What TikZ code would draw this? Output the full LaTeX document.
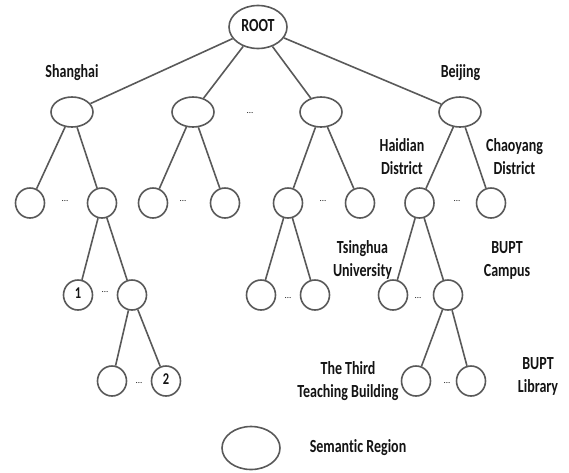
\documentclass[tikz,border=0pt]{standalone}
\usepackage{fontspec}
\setmainfont{Carlito}[Ligatures=NoCommon]
\usetikzlibrary{shapes.geometric}
\definecolor{edgegray}{HTML}{595959}
\definecolor{txt}{HTML}{141414}
\newcommand{\tlab}[1]{\scalebox{1}[1.32]{\begin{tabular}{@{}c@{}}#1\end{tabular}}}
\tikzset{
  rnode/.style={ellipse, draw=edgegray, line width=1.6pt, inner sep=0pt, minimum width=42pt, minimum height=30pt},
  cnode/.style={ellipse, draw=edgegray, line width=1.6pt, inner sep=0pt, minimum width=29pt, minimum height=30pt, font=\fontsize{12.5}{14}\selectfont\bfseries, text=txt},
  bignode/.style={ellipse, draw=edgegray, line width=1.6pt, inner sep=0pt, minimum width=58pt, minimum height=43pt, font=\fontsize{14}{16}\selectfont\bfseries, text=txt},
  lbl/.style={align=center, inner sep=0pt, font=\fontsize{14}{17.5}\selectfont\bfseries, text=txt},
  dotlbl/.style={inner sep=0pt, font=\fontsize{9}{10}\selectfont, text=txt},
  edge/.style={draw=edgegray, line width=1.6pt}
}
\begin{document}
\begin{tikzpicture}[x=1pt,y=-1pt]
\useasboundingbox (0,0) rectangle (569,472);
% root
\node[bignode] (root) at (258,27) {\tlab{ROOT}};
% level 1
\node[rnode] (s1) at (72,112) {};
\node[rnode] (s2) at (193,112) {};
\node[rnode] (s3) at (321,112) {};
\node[rnode] (s4) at (460,112) {};
% level 2
\node[cnode] (a1) at (30,203) {};
\node[cnode] (a2) at (102,203) {};
\node[cnode] (b1) at (153,203) {};
\node[cnode] (b2) at (225,203) {};
\node[cnode] (c1) at (288,203) {};
\node[cnode] (c2) at (360,203) {};
\node[cnode] (d1) at (419.5,203) {};
\node[cnode] (d2) at (491,203) {};
% level 3
\node[cnode] (a21) at (78,295) {\tlab{1}};
\node[cnode] (a22) at (132,295) {};
\node[cnode] (c11) at (261,295) {};
\node[cnode] (c12) at (315,295) {};
\node[cnode] (d11) at (393,295) {};
\node[cnode] (d12) at (448,295) {};
% level 4
\node[cnode] (a221) at (112,381) {};
\node[cnode] (a222) at (166,381) {\tlab{2}};
\node[cnode] (d121) at (416,381) {};
\node[cnode] (d122) at (471,381) {};
% legend
\node[bignode] (leg) at (251,448) {};
\node[lbl] (legt) at (358,448) {\tlab{Semantic Region}};
% edges
\foreach \p/\c in {root/s1,root/s2,root/s3,root/s4,
  s1/a1,s1/a2,s2/b1,s2/b2,s3/c1,s3/c2,s4/d1,s4/d2,
  a2/a21,a2/a22,c1/c11,c1/c12,d1/d11,d1/d12,
  a22/a221,a22/a222,d12/d121,d12/d122}
  \draw[edge] (\p) -- (\c);
% dots
\node[dotlbl] (e1) at (65,201) {...};
\node[dotlbl] (e2) at (183,201) {...};
\node[dotlbl] (e3) at (250,113) {...};
\node[dotlbl] (e4) at (323,201) {...};
\node[dotlbl] (e5) at (457,201) {...};
\node[dotlbl] (e6) at (105,292) {...};
\node[dotlbl] (e7) at (288,298) {...};
\node[dotlbl] (e8) at (418,298) {...};
\node[dotlbl] (e9) at (139,383) {...};
\node[dotlbl] (e10) at (447,383) {...};
% labels
\node[lbl] (tsh) at (72,73) {\tlab{Shanghai}};
\node[lbl] (tbj) at (460.5,73) {\tlab{Beijing}};
\node[lbl] (thd) at (402,158.5) {\tlab{Haidian\\District}};
\node[lbl] (tcy) at (514.5,158.5) {\tlab{Chaoyang\\District}};
\node[lbl] (tth) at (362.5,260) {\tlab{Tsinghua\\University}};
\node[lbl] (tbc) at (507,260) {\tlab{BUPT\\Campus}};
\node[lbl] (ttb) at (348,381.5) {\tlab{The Third\\Teaching Building}};
\node[lbl] (tbl) at (538,376.5) {\tlab{BUPT\\Library}};
\end{tikzpicture}
\end{document}
